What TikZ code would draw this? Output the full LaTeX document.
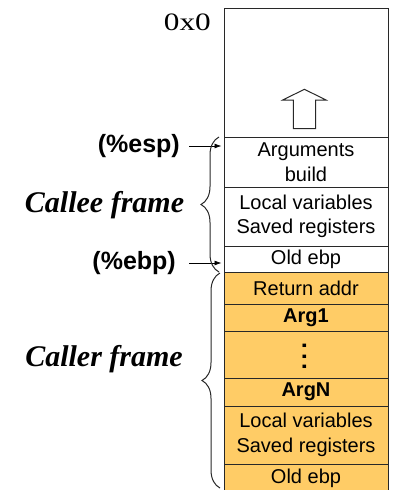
\documentclass[tikz,border=0pt]{standalone}
\usepackage{fontspec}
\setmainfont{Liberation Serif}
\setsansfont{Liberation Sans}
\usetikzlibrary{arrows.meta,decorations.pathreplacing}
\definecolor{frameorange}{RGB}{255,204,102}
\definecolor{edgegray}{RGB}{40,40,40}
\begin{document}
\begin{tikzpicture}[x=1pt,y=-1pt,
  cell/.style={draw=edgegray, line width=1pt, minimum width=164pt, inner sep=0pt,
    align=center, font=\sffamily\fontsize{20}{24.5}\selectfont},
  callercell/.style={cell, fill=frameorange},
  reglabel/.style={anchor=east, inner sep=0pt, font=\sffamily\bfseries\fontsize{25}{30}\selectfont},
  framelabel/.style={inner sep=0pt, font=\rmfamily\bfseries\itshape\fontsize{30}{36}\selectfont},
  ptr/.style={-{Latex[length=7pt,width=5pt]}, line width=0.8pt, shorten >=2pt},
  framebrace/.style={draw=edgegray, line width=1pt, decorate, decoration={brace, amplitude=18pt}}]
\useasboundingbox (0,0) rectangle (396,490);
% stack cells
\node[cell, minimum height=129pt] (free) at (306,72.5) {};
\node[cell, minimum height=50pt] (args) at (306,162) {Arguments\\build};
\node[cell, minimum height=59pt] (locals) at (306,216.5) {Local variables\\Saved registers};
\node[cell, minimum height=26pt] (oldebp) at (306,259) {Old ebp};
\node[callercell, minimum height=32pt] (ret) at (306,288) {Return addr};
\node[callercell, minimum height=27pt] (arga) at (306,317.5) {\bfseries Arg1};
\node[callercell, minimum height=47pt] (dots) at (306,354.5) {};
\node[inner sep=0pt, font=\sffamily\bfseries\fontsize{24}{24}\selectfont] (vdots) at (304.5,356.5)
  {\rotatebox{-90}{.\hspace{3.8pt}.\hspace{3.8pt}.}};
\node[callercell, minimum height=28pt] (argn) at (306,392) {\bfseries ArgN};
\node[callercell, minimum height=58pt] (locals2) at (306,435) {Local variables\\Saved registers};
\node[callercell, minimum height=28pt] (oldebp2) at (306,478) {Old ebp};
% growth arrow
\draw[draw=edgegray, line width=1pt, fill=white]
  (304.4,89.3) -- (326,100) -- (315.7,100) -- (315.7,128.5) -- (293.3,128.5)
  -- (293.3,100) -- (282.7,100) -- cycle;
% address label
\node[anchor=east, inner sep=0pt, font=\rmfamily\fontsize{25}{28}\selectfont] (addr) at (211,22) {\scalebox{1.25}[1]{0x0}};
% register labels and pointers
\node[reglabel] (esp) at (180,146) {(\%esp)};
\node[reglabel] (ebp) at (176,263) {(\%ebp)};
\draw[ptr] ([xshift=9pt]esp.east) -- (args.west |- esp.east);
\draw[ptr] ([xshift=13pt]ebp.east) -- (oldebp.west |- ebp.east);
% frames
\coordinate (calleetop) at (219,137);
\coordinate (calleebot) at (219,272);
\coordinate (callertop) at (220,273);
\coordinate (callerbot) at (220,488);
\draw[framebrace] (calleebot) -- (calleetop);
\draw[framebrace] (callerbot) -- (callertop);
\node[framelabel] (callee) at (104.5,205) {Callee frame};
\node[framelabel] (caller) at (104,359) {Caller frame};
\end{tikzpicture}
\end{document}
